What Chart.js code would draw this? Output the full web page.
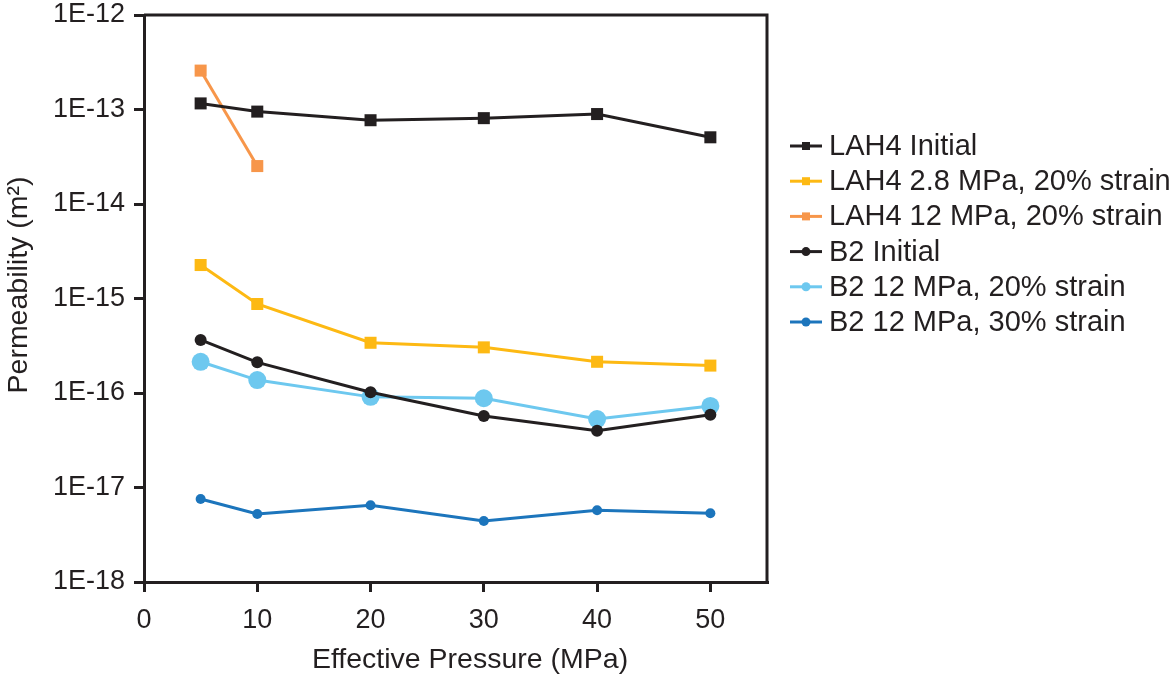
<!DOCTYPE html>
<html>
<head>
<meta charset="utf-8">
<script src="https://cdn.jsdelivr.net/npm/chart.js@4/dist/chart.umd.min.js"></script>
<style>
  body { margin: 0; background: #fff; }
  #wrap { width: 1176px; height: 675px; }
</style>
</head>
<body>
<div id="wrap"><canvas id="chart" width="1176" height="675"></canvas></div>
<script>
// Effective pressure steps (MPa)
const pressures = [5, 10, 20, 30, 40, 50]
const pressuresShort = [5, 10]

// Permeability (m^2)
const lah4Initial = [1.16e-13, 9.5e-14, 7.7e-14, 8.1e-14, 8.95e-14, 5.08e-14]
const lah4Strain28 = [2.26e-15, 8.75e-16, 3.4e-16, 3.04e-16, 2.14e-16, 1.95e-16]
const lah4Strain12 = [2.58e-13, 2.52e-14]
const b2Initial = [3.64e-16, 2.11e-16, 1.02e-16, 5.7e-17, 3.99e-17, 5.9e-17]
const b2Strain20 = [2.14e-16, 1.37e-16, 9.1e-17, 8.8e-17, 5.3e-17, 7.3e-17]
const b2Strain30 = [7.55e-18, 5.25e-18, 6.5e-18, 4.43e-18, 5.74e-18, 5.33e-18]

const seriesLabels = [
  'LAH4 Initial',
  'LAH4 2.8 MPa, 20% strain',
  'LAH4 12 MPa, 20% strain',
  'B2 Initial',
  'B2 12 MPa, 20% strain',
  'B2 12 MPa, 30% strain'
]

const xTicks = [0, 10, 20, 30, 40, 50]
const yTicks = [1e-18, 1e-17, 1e-16, 1e-15, 1e-14, 1e-13, 1e-12]

const ink = '#231f20'
const font = 'Liberation Sans, Arial, Helvetica, sans-serif'

function points(xs, ys) {
  return xs.map((x, i) => ({ x: x, y: ys[i] }))
}

function series(label, xs, ys, color, style, radius) {
  return {
    label: label,
    data: points(xs, ys),
    borderColor: color,
    backgroundColor: color,
    borderWidth: 3,
    tension: 0,
    pointStyle: style,
    pointRadius: radius,
    pointHoverRadius: radius,
    pointBorderWidth: 0,
    pointBackgroundColor: color
  }
}

const datasets = [
  series(seriesLabels[0], pressures, lah4Initial, ink, 'rect', 8.5),
  series(seriesLabels[1], pressures, lah4Strain28, '#fdb913', 'rect', 8.5),
  series(seriesLabels[2], pressuresShort, lah4Strain12, '#f7964a', 'rect', 8.5),
  series(seriesLabels[3], pressures, b2Initial, ink, 'circle', 6),
  series(seriesLabels[4], pressures, b2Strain20, '#6dc8ef', 'circle', 9),
  series(seriesLabels[5], pressures, b2Strain30, '#1c75bc', 'circle', 5)
]

// Frame, axis titles and the line+marker legend
const decorations = {
  id: 'decorations',
  afterDraw(chart) {
    const ctx = chart.ctx
    const area = chart.chartArea
    ctx.save()

    ctx.strokeStyle = ink
    ctx.lineWidth = 3
    ctx.beginPath()
    ctx.moveTo(area.left, area.top)
    ctx.lineTo(area.right, area.top)
    ctx.lineTo(area.right, area.bottom)
    ctx.stroke()

    ctx.fillStyle = ink
    ctx.font = '28.5px ' + font
    ctx.textAlign = 'center'
    ctx.textBaseline = 'middle'
    ctx.fillText('Effective Pressure (MPa)', 470, 660)

    ctx.save()
    ctx.translate(19, 285)
    ctx.rotate(-Math.PI / 2)
    ctx.fillText('Permeability (m²)', 0, 0)
    ctx.restore()

    ctx.font = '29px ' + font
    ctx.textAlign = 'left'
    chart.data.datasets.forEach((ds, i) => {
      const y = 146 + i * 35.2
      ctx.strokeStyle = ds.borderColor
      ctx.fillStyle = ds.borderColor
      ctx.lineWidth = 3
      ctx.beginPath()
      ctx.moveTo(790, y)
      ctx.lineTo(822, y)
      ctx.stroke()
      ctx.beginPath()
      if (ds.pointStyle === 'rect') {
        ctx.rect(802, y - 4, 8, 8)
      } else {
        ctx.arc(806, y, 4.5, 0, Math.PI * 2)
      }
      ctx.fill()
      ctx.fillStyle = ink
      ctx.fillText(ds.label, 829, y + 1)
    })

    ctx.restore()
  }
}

new Chart(document.getElementById('chart'), {
  type: 'line',
  data: { datasets: datasets },
  options: {
    responsive: false,
    animation: false,
    layout: { padding: { top: 15, right: 409, left: 0, bottom: 0 } },
    plugins: {
      legend: { display: false },
      tooltip: { enabled: false }
    },
    scales: {
      x: {
        type: 'linear',
        min: 0,
        max: 55,
        afterBuildTicks: (scale) => { scale.ticks = xTicks.map(v => ({ value: v })) },
        afterFit: (scale) => {
          scale.height = 93
          scale.paddingLeft = 0
          scale.paddingRight = 0
        },
        ticks: {
          color: ink,
          font: { family: font, size: 27 },
          padding: 12,
          maxRotation: 0
        },
        grid: {
          drawOnChartArea: false,
          drawTicks: true,
          tickLength: 10,
          lineWidth: 3,
          color: ink
        },
        border: { display: true, width: 3, color: ink }
      },
      y: {
        type: 'logarithmic',
        min: 1e-18,
        max: 1e-12,
        afterBuildTicks: (scale) => { scale.ticks = yTicks.map(v => ({ value: v })) },
        afterFit: (scale) => {
          scale.width = 144
          scale.paddingTop = 0
          scale.paddingBottom = 0
        },
        ticks: {
          color: ink,
          font: { family: font, size: 27 },
          padding: 9,
          callback: (value) => '1E' + Math.round(Math.log10(value))
        },
        grid: {
          drawOnChartArea: false,
          drawTicks: true,
          tickLength: 10,
          lineWidth: 3,
          color: ink
        },
        border: { display: true, width: 3, color: ink }
      }
    }
  },
  plugins: [decorations]
})
</script>
</body>
</html>
